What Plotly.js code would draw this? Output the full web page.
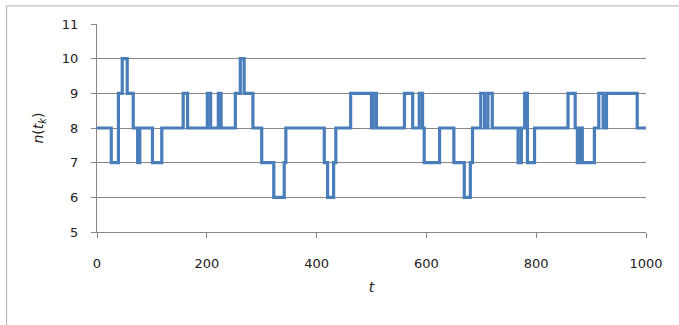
<!DOCTYPE html>
<html>
<head>
<meta charset="utf-8">
<script src="https://cdn.plot.ly/plotly-3.0.1.min.js"></script>
<style>
html,body{margin:0;padding:0;background:#fff;}
#chart{width:679px;height:325px;}
</style>
</head>
<body>
<div id="chart"></div>
<script>
// Jump times t_k and the value n(t_k) holding from that time on
var tValues = [0, 26, 39, 46, 55, 66, 74, 78, 101, 118, 157, 165, 201, 207, 221, 226, 252, 261, 268, 284,
  300, 322, 341, 344, 414, 420, 431, 435, 462, 500, 503, 509, 560, 575, 587, 593, 596, 624, 650, 669,
  680, 684, 699, 706, 712, 720, 767, 773, 779, 784, 797, 858, 871, 875, 879, 884,
  906, 914, 922, 928, 984, 1000];
var nValues = [8, 7, 9, 10, 9, 8, 7, 8, 7, 8, 9, 8, 9, 8, 9, 8, 9, 10, 9, 8,
  7, 6, 7, 8, 7, 6, 7, 8, 9, 8, 9, 8, 9, 8, 9, 8, 7, 8, 7, 6,
  7, 8, 9, 8, 9, 8, 7, 8, 9, 7, 8, 9, 8, 7, 8, 7,
  8, 9, 8, 9, 8, 8];
var xTickVals = [0, 200, 400, 600, 800, 1000];
var yTickVals = [5, 6, 7, 8, 9, 10, 11];

var font = "DejaVu Sans, sans-serif";
var trace = {
  x: tValues, y: nValues, type: 'scatter', mode: 'lines',
  line: {shape: 'hv', color: '#4a7ebb', width: 3.2},
  hoverinfo: 'none'
};
var layout = {
  width: 679, height: 325,
  margin: {l: 97, r: 33, t: 24, b: 93},
  paper_bgcolor: '#ffffff', plot_bgcolor: '#ffffff',
  showlegend: false,
  font: {family: font, size: 13, color: '#222'},
  xaxis: {
    range: [0, 1000], tickvals: xTickVals, ticktext: xTickVals.map(String),
    showgrid: false, zeroline: false,
    showline: true, linecolor: '#868686', linewidth: 1,
    ticks: 'outside', ticklen: 5, tickcolor: '#868686', ticklabelstandoff: 14,
    tickfont: {family: font, size: 13, color: '#222'},
    title: {text: '<i>t</i>', font: {family: font, size: 14, color: '#222'}, standoff: 12}
  },
  yaxis: {
    range: [5, 11], tickvals: yTickVals, ticktext: yTickVals.map(String),
    showgrid: true, gridcolor: '#868686', gridwidth: 1, zeroline: false,
    showline: true, linecolor: '#868686', linewidth: 1,
    ticks: 'outside', ticklen: 5, tickcolor: '#868686', ticklabelstandoff: 10,
    tickfont: {family: font, size: 13, color: '#222'},
    title: {text: '<i>n</i>(<i>t<sub>k</sub></i>)', font: {family: font, size: 14, color: '#222'}, standoff: 14}
  },
  shapes: [
    {type: 'line', xref: 'paper', yref: 'paper', x0: -0.1646, x1: -0.1646, y0: 1.087, y1: -0.5,
     line: {color: '#b0b0b0', width: 1}},
    {type: 'line', xref: 'paper', yref: 'paper', x0: -0.1646, x1: 1.2, y0: 1.087, y1: 1.087,
     line: {color: '#b0b0b0', width: 1}}
  ]
};
Plotly.newPlot('chart', [trace], layout, {staticPlot: true, displayModeBar: false});
</script>
</body>
</html>
